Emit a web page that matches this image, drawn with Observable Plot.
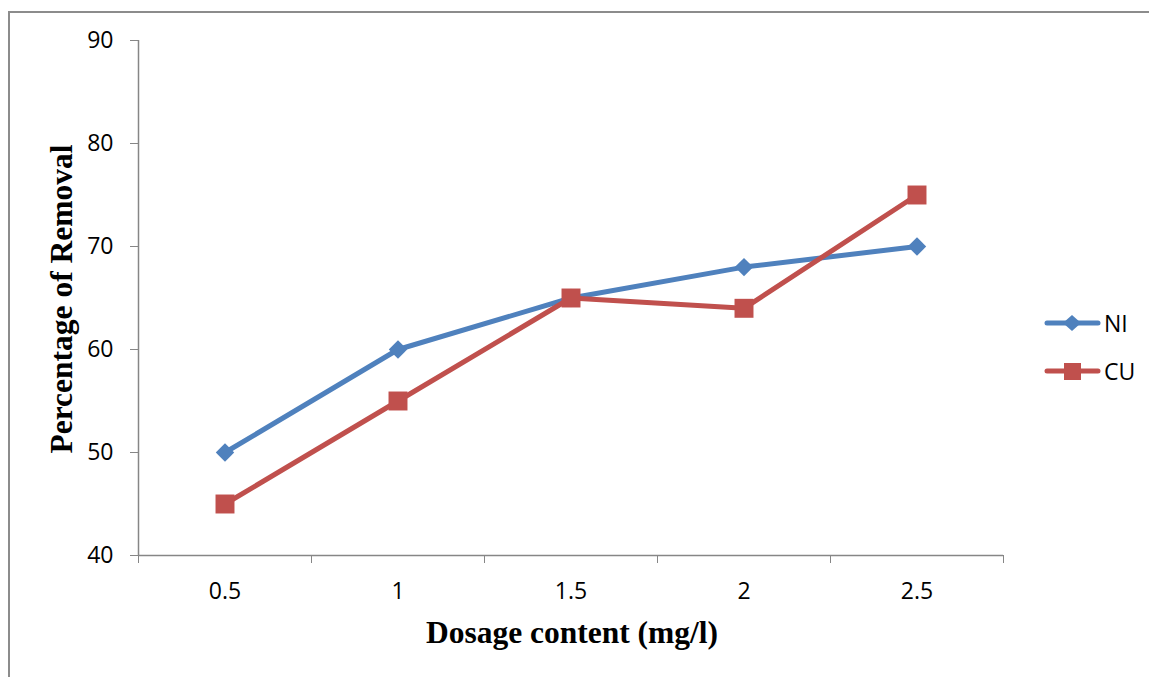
<!DOCTYPE html>
<html><head><meta charset="utf-8">
<script src="https://cdn.jsdelivr.net/npm/d3@7"></script>
<script src="https://cdn.jsdelivr.net/npm/@observablehq/plot@0.6"></script>
<style>
body{margin:0;background:#fff;width:1149px;height:677px;overflow:hidden;position:relative;font-family:"Open Sans",sans-serif}
#frame{position:absolute;left:8px;top:11px;width:1200px;height:700px;border-left:2px solid #8c8c8c;border-top:2px solid #8c8c8c}
#chart{position:absolute;left:0;top:0}
#chart svg text{font-size:23px !important;font-family:"Open Sans",sans-serif !important}
.title{position:absolute;font-family:"Liberation Serif",serif;font-weight:bold;font-size:31.5px;color:#000;white-space:nowrap}
#ytitle{left:62px;top:299px;transform:translate(-50%,-50%) rotate(-90deg)}
#xtitle{left:572px;top:633px;transform:translate(-50%,-50%)}
.leg{position:absolute;left:1043px;display:flex;align-items:center;font-size:23px;font-family:"Open Sans",sans-serif}
</style></head>
<body>
<div id="frame"></div>
<div id="chart"></div>
<div id="ytitle" class="title">Percentage of Removal</div>
<div id="xtitle" class="title">Dosage content (mg/l)</div>
<div id="legend"></div>
<script>
const dosages = [0.5, 1, 1.5, 2, 2.5];
const niValues = [50, 60, 65, 68, 70];
const cuValues = [45, 55, 65, 64, 75];
const yTicks = [40, 50, 60, 70, 80, 90];
const seriesNames = ["NI", "CU"];
const colors = {NI: "#4F81BD", CU: "#C0504D"};

const ni = dosages.map((d, i) => ({x: d, y: niValues[i]}));
const cu = dosages.map((d, i) => ({x: d, y: cuValues[i]}));
const step = dosages[1] - dosages[0];
const xMin = dosages[0] - step / 2, xMax = dosages[dosages.length - 1] + step / 2;
const boundaries = [...dosages.map(d => d - step / 2), xMax];

const axisColor = "#868686";
const chart = Plot.plot({
  width: 1149, height: 677,
  marginLeft: 138, marginRight: 146, marginTop: 40, marginBottom: 122,
  style: {fontFamily: "'Open Sans', sans-serif", fontSize: "23px", color: "#000", background: "transparent"},
  x: {domain: [xMin, xMax]},
  y: {domain: [yTicks[0], yTicks[yTicks.length - 1]]},
  marks: [
    Plot.ruleX([xMin], {stroke: axisColor, strokeWidth: 1.5}),
    Plot.ruleY([yTicks[0]], {stroke: axisColor, strokeWidth: 1.5}),
    Plot.axisY({ticks: yTicks, tickSize: 8, tickPadding: 17, stroke: axisColor, strokeOpacity: 1, label: null, fill: "#000"}),
    Plot.axisX({ticks: boundaries, tickSize: 8, tickFormat: () => "", stroke: axisColor, strokeOpacity: 1, label: null}),
    Plot.axisX({ticks: dosages, tickSize: 0, tickPadding: 27, tickFormat: d => String(d), label: null, fill: "#000"}),
    Plot.line(ni, {x: "x", y: "y", stroke: colors.NI, strokeWidth: 5, strokeLinejoin: "round", strokeLinecap: "round"}),
    Plot.line(cu, {x: "x", y: "y", stroke: colors.CU, strokeWidth: 5, strokeLinejoin: "round", strokeLinecap: "round"}),
    Plot.dot(ni, {x: "x", y: "y", symbol: "diamond2", r: 8.3, fill: colors.NI, stroke: "none"}),
    Plot.dot(cu, {x: "x", y: "y", symbol: "square", r: 10.7, fill: colors.CU, stroke: "none"})
  ]
});
document.getElementById("chart").appendChild(chart);

// legend
const legend = document.getElementById("legend");
seriesNames.forEach((s, i) => {
  const div = document.createElement("div");
  div.className = "leg";
  div.style.top = (322 + i * 48 - 15) + "px";
  const sym = s === "NI"
    ? `<path d="M29,7 L38,15 L29,23 L20,15 Z" fill="${colors[s]}"/>`
    : `<rect x="21" y="7" width="17" height="17" fill="${colors[s]}"/>`;
  div.innerHTML = `<svg width="60" height="30"><line x1="4" y1="15" x2="55" y2="15" stroke="${colors[s]}" stroke-width="5" stroke-linecap="round"/>${sym}</svg><span style="margin-left:1px">${s}</span>`;
  legend.appendChild(div);
});
</script>
</body></html>
